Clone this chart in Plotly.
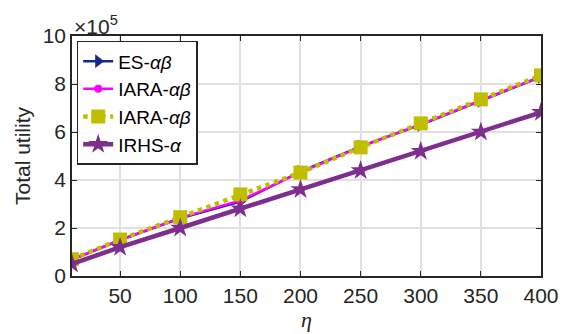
import plotly.graph_objects as go

eta = [10, 50, 100, 150, 200, 250, 300, 350, 400]
es_ab = [0.68, 1.50, 2.40, 3.10, 4.35, 5.40, 6.30, 7.30, 8.30]
iara_ab_m = [0.68, 1.50, 2.42, 3.15, 4.32, 5.38, 6.32, 7.32, 8.32]
iara_ab_y = [0.70, 1.52, 2.45, 3.40, 4.31, 5.36, 6.36, 7.36, 8.36]
irhs_a = [0.50, 1.20, 2.00, 2.80, 3.60, 4.40, 5.20, 6.00, 6.82]

xticks = [50, 100, 150, 200, 250, 300, 350, 400]
yticks = [0, 2, 4, 6, 8, 10]

fig = go.Figure()
fig.add_trace(go.Scatter(x=eta, y=es_ab, mode="lines+markers", name="ES-<i>αβ</i>",
                         line=dict(color="#16298a", width=2.5),
                         marker=dict(symbol="triangle-right", size=12, color="#16298a")))
fig.add_trace(go.Scatter(x=eta, y=iara_ab_m, mode="lines+markers", name="IARA-<i>αβ</i>",
                         line=dict(color="#ff00ff", width=2.5),
                         marker=dict(symbol="circle", size=8, color="#ff00ff")))
fig.add_trace(go.Scatter(x=eta, y=iara_ab_y, mode="lines+markers", name="IARA-<i>αβ</i>",
                         line=dict(color="#bfbf00", width=4.5, dash="dot"),
                         marker=dict(symbol="square", size=14, color="#bfbf00")))
fig.add_trace(go.Scatter(x=eta, y=irhs_a, mode="lines+markers", name="IRHS-<i>α</i>",
                         line=dict(color="#7e2f8e", width=4.5),
                         marker=dict(symbol="star", size=15, color="#7e2f8e")))

axis_common = dict(showline=True, linecolor="#262626", linewidth=1.5, mirror="ticks",
                   ticks="inside", ticklen=5, tickcolor="#262626",
                   showgrid=True, gridcolor="#e0e0e0", gridwidth=1.5,
                   zeroline=False, tickfont=dict(family="Liberation Sans, Arial", size=21, color="#262626"))

fig.update_layout(
    width=571, height=334,
    margin=dict(l=72, r=26, t=36, b=58),
    plot_bgcolor="white", paper_bgcolor="white",
    xaxis=dict(range=[10, 400], tickvals=xticks, **axis_common,
               title=dict(text="<i>η</i>", font=dict(family="Liberation Serif", size=22, color="#262626"), standoff=0)),
    yaxis=dict(range=[0, 10], tickvals=yticks, **axis_common,
               title=dict(text="Total utility", font=dict(family="Liberation Sans, Arial", size=21, color="#262626"), standoff=6)),
    legend=dict(x=0.01, y=0.98, xanchor="left", yanchor="top",
                bgcolor="white", bordercolor="#262626", borderwidth=1.5,
                font=dict(family="Liberation Sans, Arial", size=19, color="#000000"),
                tracegroupgap=0, itemwidth=30),
    showlegend=True,
)
fig.add_annotation(x=0, y=1, xref="paper", yref="paper", xanchor="left", yanchor="bottom",
                   text="×10<sup>5</sup>", showarrow=False, yshift=-4,
                   font=dict(family="Liberation Sans, Arial", size=21, color="#262626"))

fig.write_html("out.html")
